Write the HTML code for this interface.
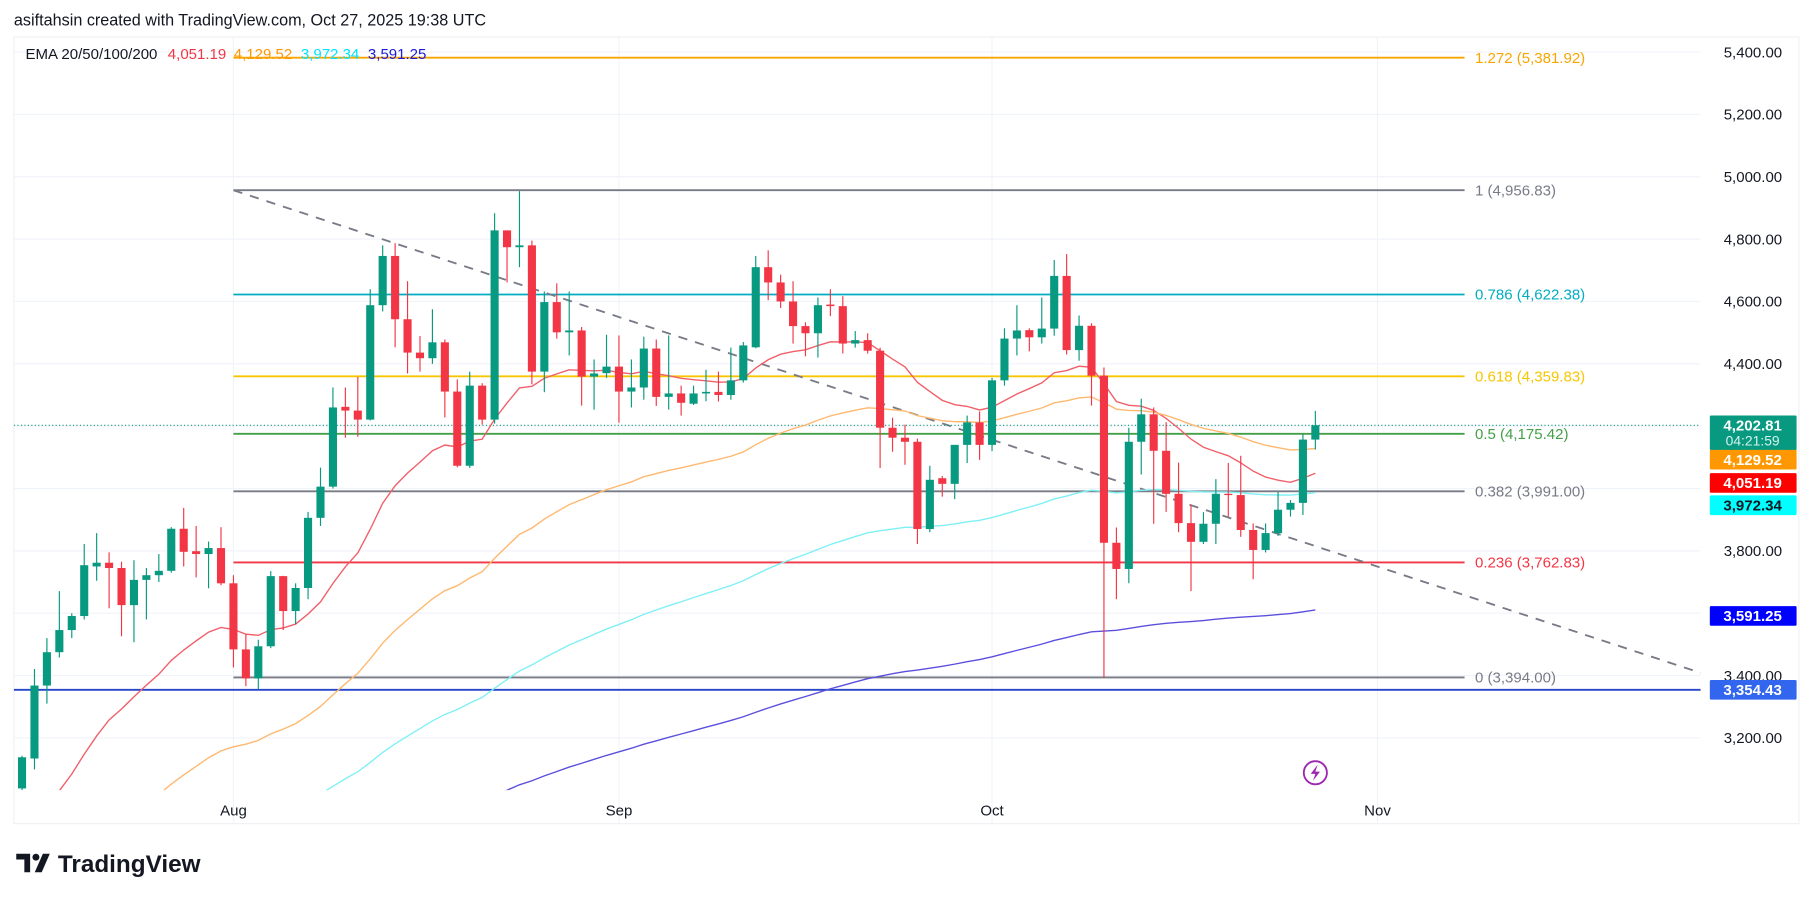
<!DOCTYPE html>
<html><head><meta charset="utf-8"><style>
html,body{margin:0;padding:0;background:#fff;}
svg{display:block;font-family:"Liberation Sans","DejaVu Sans",sans-serif;}
</style></head><body>
<svg id="chart" width="1814" height="900" viewBox="0 0 1568 778" xmlns="http://www.w3.org/2000/svg">
<rect x="0" y="0" width="1568" height="778" fill="#ffffff"/>
<text x="12" y="22" font-size="14" fill="#131722">asiftahsin created with TradingView.com, Oct 27, 2025 19:38 UTC</text>
<rect x="12" y="32" width="1543" height="680" fill="none" stroke="#eef0f4"/>
<g id="grid"></g>
<g id="fib"></g>
<g id="ema"></g>
<g id="candles"></g>
<g id="axis"></g>
<text x="22" y="51" font-size="13" fill="#131722">EMA 20/50/100/200</text>
<text x="145" y="51" font-size="13" fill="#f23645">4,051.19</text>
<text x="202" y="51" font-size="13" fill="#ff9800">4,129.52</text>
<text x="260" y="51" font-size="13" fill="#00e5ff">3,972.34</text>
<text x="318" y="51" font-size="13" fill="#1a1adb">3,591.25</text>
<g>
<circle cx="1137" cy="668" r="10" fill="none" stroke="#9c27b0" stroke-width="1.6"/>
<path d="M1139 661 L1133 669 L1137 669 L1135 675 L1141 667 L1137 667 Z" fill="#9c27b0"/>
</g>
<g>
<path d="M14 738 h12 v16 h-5 v-11 h-7 z" fill="#131722"/>
<circle cx="31" cy="741" r="3" fill="#131722"/>
<path d="M30 754 l7 -16 h6 l-7 16 z" fill="#131722"/>
<text x="50" y="754" font-size="21" font-weight="bold" fill="#131722">TradingView</text>
</g>
</svg>
<script>
const dates0 = "2025-07-15";
const opens = [3038,3134,3368,3475,3546,3591,3750,3762,3745,3626,3707,3722,3736,3871,3799,3790,3809,3696,3484,3391,3494,3719,3607,3681,3906,4006,4262,4250,4221,4588,4746,4543,4436,4418,4469,4311,4073,4330,4221,4828,4774,4780,4375,4598,4501,4507,4359,4370,4391,4311,4324,4449,4294,4305,4272,4305,4310,4300,4347,4453,4710,4661,4600,4521,4498,4590,4585,4465,4476,4442,4195,4163,4150,3870,4033,4015,4140,4212,4140,4347,4481,4508,4485,4513,4682,4444,4522,4362,3826,3742,4150,4238,4121,3983,3889,3829,3887,3983,3979,3867,3803,3857,3932,3954,4157];
const highs = [3143,3421,3520,3671,3600,3822,3857,3795,3765,3770,3745,3790,3876,3938,3880,3830,3876,3722,3532,3515,3735,3720,3696,3925,4067,4324,4324,4358,4639,4780,4787,4665,4489,4575,4478,4350,4375,4338,4883,4828,4954,4795,4632,4658,4632,4518,4414,4493,4491,4414,4487,4478,4491,4330,4330,4381,4375,4452,4470,4746,4764,4686,4665,4533,4613,4639,4617,4505,4498,4452,4227,4205,4160,4073,4040,4140,4234,4247,4355,4514,4588,4514,4613,4733,4752,4555,4530,4388,3875,4195,4288,4260,4213,4083,3948,3924,4030,4082,4105,3888,3888,3989,3963,4175,4249];
const lows = [2990,3099,3310,3458,3520,3580,3704,3616,3526,3507,3580,3700,3730,3750,3715,3680,3690,3426,3366,3356,3488,3546,3565,3645,3880,4000,4163,4166,4218,4568,4453,4369,4375,4400,4228,4068,4066,4205,4208,4661,4710,4334,4309,4481,4427,4266,4253,4355,4211,4260,4285,4265,4253,4234,4268,4280,4279,4285,4340,4450,4604,4579,4465,4424,4420,4553,4433,4452,4433,4066,4118,4076,3822,3860,3974,3966,4082,4092,4120,4330,4427,4440,4465,4490,4430,4410,4266,3394,3645,3696,4045,3887,3925,3860,3671,3822,3822,3910,3845,3709,3795,3848,3910,3915,4125];
const closes = [3138,3368,3475,3546,3591,3754,3762,3745,3626,3707,3722,3736,3871,3797,3790,3809,3696,3484,3391,3494,3719,3607,3681,3906,4006,4260,4250,4221,4588,4746,4543,4436,4418,4469,4311,4073,4330,4221,4828,4774,4780,4375,4598,4501,4507,4359,4369,4391,4311,4324,4449,4294,4305,4275,4305,4310,4300,4347,4459,4710,4661,4600,4521,4498,4588,4585,4465,4476,4442,4195,4163,4150,3870,4028,4015,4140,4212,4140,4347,4481,4507,4485,4513,4682,4444,4522,4362,3826,3742,4150,4238,4121,3983,3889,3829,3887,3983,3979,3867,3803,3857,3932,3954,4157,4203];
const emaPeriods = [20,50,100,200];
const emaSeeds = [2850,2650,2600,2562];
const fibRatios = ["1.272","1","0.786","0.618","0.5","0.382","0.236","0"];
const fibPrices = [5381.92,4956.83,4622.38,4359.83,4175.42,3991.00,3762.83,3394.00];
const priceTicks = [5400,5200,5000,4800,4600,4400,3800,3400,3200];
const gridPrices = [5400,5200,5000,4800,4600,4400,4200,4000,3800,3600,3400,3200];
const monthLabels = ["Aug","Sep","Oct","Nov"];
const monthDayIndex = [17,48,78,109];
const supportPrice = 3354.43;
const lastPrice = 4202.81;
const lastCountdown = "04:21:59";

const NS = "http://www.w3.org/2000/svg";
const PL = 12, PR = 1470, PT = 32, PB = 683;
function yOf(p){ return 45 + (5400 - p) * 0.2695; }
function xOf(i){ return 19 + i * 10.75; }
function mk(tag, attrs, parent){ const e=document.createElementNS(NS,tag); for(const k in attrs) e.setAttribute(k,attrs[k]); parent.appendChild(e); return e; }
function fmt(v){ return v.toLocaleString("en-US",{minimumFractionDigits:2,maximumFractionDigits:2}); }

const svg = document.getElementById("chart");
const defs = mk("defs",{},svg);
const cp = mk("clipPath",{id:"plotclip"},defs);
mk("rect",{x:PL,y:PT,width:PR-PL,height:PB-PT},cp);

const grid = document.getElementById("grid");
gridPrices.forEach(p=>{
  const l = mk("line",{x1:PL,x2:PR,y1:yOf(p),y2:yOf(p),stroke:"#f0f3fa","stroke-width":1},grid);
  
  
});
monthDayIndex.forEach(i=>{
  const l = mk("line",{x1:xOf(i),x2:xOf(i),y1:PT,y2:712,stroke:"#f0f3fa","stroke-width":1},grid);
  
  
});

const axis = document.getElementById("axis");
priceTicks.forEach(p=>{
  const t = mk("text",{x:1490,y:yOf(p)+4.5,"font-size":13,fill:"#131722"},axis);
  t.textContent = fmt(p);
  
  
});
monthLabels.forEach((m,k)=>{
  const t = mk("text",{x:xOf(monthDayIndex[k]),y:705,"font-size":13,fill:"#131722","text-anchor":"middle"},axis);
  t.textContent = m;
  
  
});

const fib = document.getElementById("fib");
const fibColors = ["#f7a600","#787b86","#00acc1","#f7c600","#43a047","#787b86","#f23645","#787b86"];
const fx1 = xOf(17), fx2 = 1266;
fibPrices.forEach((p,k)=>{
  const l = mk("line",{x1:fx1,x2:fx2,y1:yOf(p),y2:yOf(p),stroke:fibColors[k],"stroke-width":1.6},fib);
  
  
  const t = mk("text",{x:1275,y:yOf(p)+4.5,"font-size":13,fill:fibColors[k]},fib);
  t.textContent = fibRatios[k]+" ("+fmt(p)+")";
  
  
});
const diag = mk("line",{x1:fx1,y1:yOf(fibPrices[1]),x2:PR,y2:yOf(fibPrices[7])-4,stroke:"#787b86","stroke-width":1.6,"stroke-dasharray":"8 7"},fib);


const sup = mk("line",{x1:PL,x2:PR,y1:yOf(supportPrice),y2:yOf(supportPrice),stroke:"#2745c9","stroke-width":1.6},fib);


const lp = mk("line",{x1:PL,x2:PR,y1:yOf(lastPrice),y2:yOf(lastPrice),stroke:"#089981","stroke-width":1,"stroke-dasharray":"1 2"},fib);



const emaG = document.getElementById("ema");
emaG.setAttribute("clip-path","url(#plotclip)");
const emaColors = ["#f0606a","#ffb870","#7ff0f5","#5b50dd"];
emaPeriods.forEach((n,k)=>{
  const a = 2/(n+1); let e = emaSeeds[k]; const pts=[];
  closes.forEach((c,i)=>{ e = a*c + (1-a)*e; pts.push(xOf(i).toFixed(1)+","+yOf(e).toFixed(1)); });
  const pl = mk("polyline",{points:pts.join(" "),fill:"none",stroke:emaColors[k],"stroke-width":1.2},emaG);
  
  
});

const cg = document.getElementById("candles");
cg.setAttribute("clip-path","url(#plotclip)");
closes.forEach((c,i)=>{
  const o=opens[i], up = c>=o, col = up?"#089981":"#f23645", x=xOf(i);
  const g = mk("g",{},cg);
  
  
  mk("line",{x1:x,x2:x,y1:yOf(highs[i]),y2:yOf(lows[i]),stroke:col,"stroke-width":1},g);
  const top=yOf(Math.max(o,c)), bot=yOf(Math.min(o,c));
  mk("rect",{x:x-3.5,y:top,width:7,height:Math.max(1,bot-top),fill:col},g);
});

function tag(price, bg, fg, name, extra, dy){
  const y = yOf(price) + (dy||0);
  const h = extra?30:17, y0 = y-8.5;
  const g = mk("g",{},axis);
  
  
  mk("rect",{x:1478,y:y0,width:75,height:h,fill:bg,rx:1},g);
  const t = mk("text",{x:1515,y:y0+13,"font-size":13,fill:fg,"text-anchor":"middle","font-weight":"bold"},g);
  t.textContent = fmt(price);
  if(extra){ const t2 = mk("text",{x:1515,y:y0+26,"font-size":12,fill:"#d6f2ec","text-anchor":"middle"},g); t2.textContent=extra; }
}
tag(lastPrice,"#089981","#ffffff","last-price-tag",lastCountdown,0);
tag(4129.52,"#ff9800","#ffffff","ema50-tag",null,10);
tag(4051.19,"#ff0000","#ffffff","ema20-tag",null,9);
tag(3972.34,"#00ffff","#131722","ema100-tag",null,7);
tag(3591.25,"#0000ff","#ffffff","ema200-tag",null,0);
tag(supportPrice,"#3366ee","#ffffff","support-price-tag",null,0);
</script>
</body></html>
